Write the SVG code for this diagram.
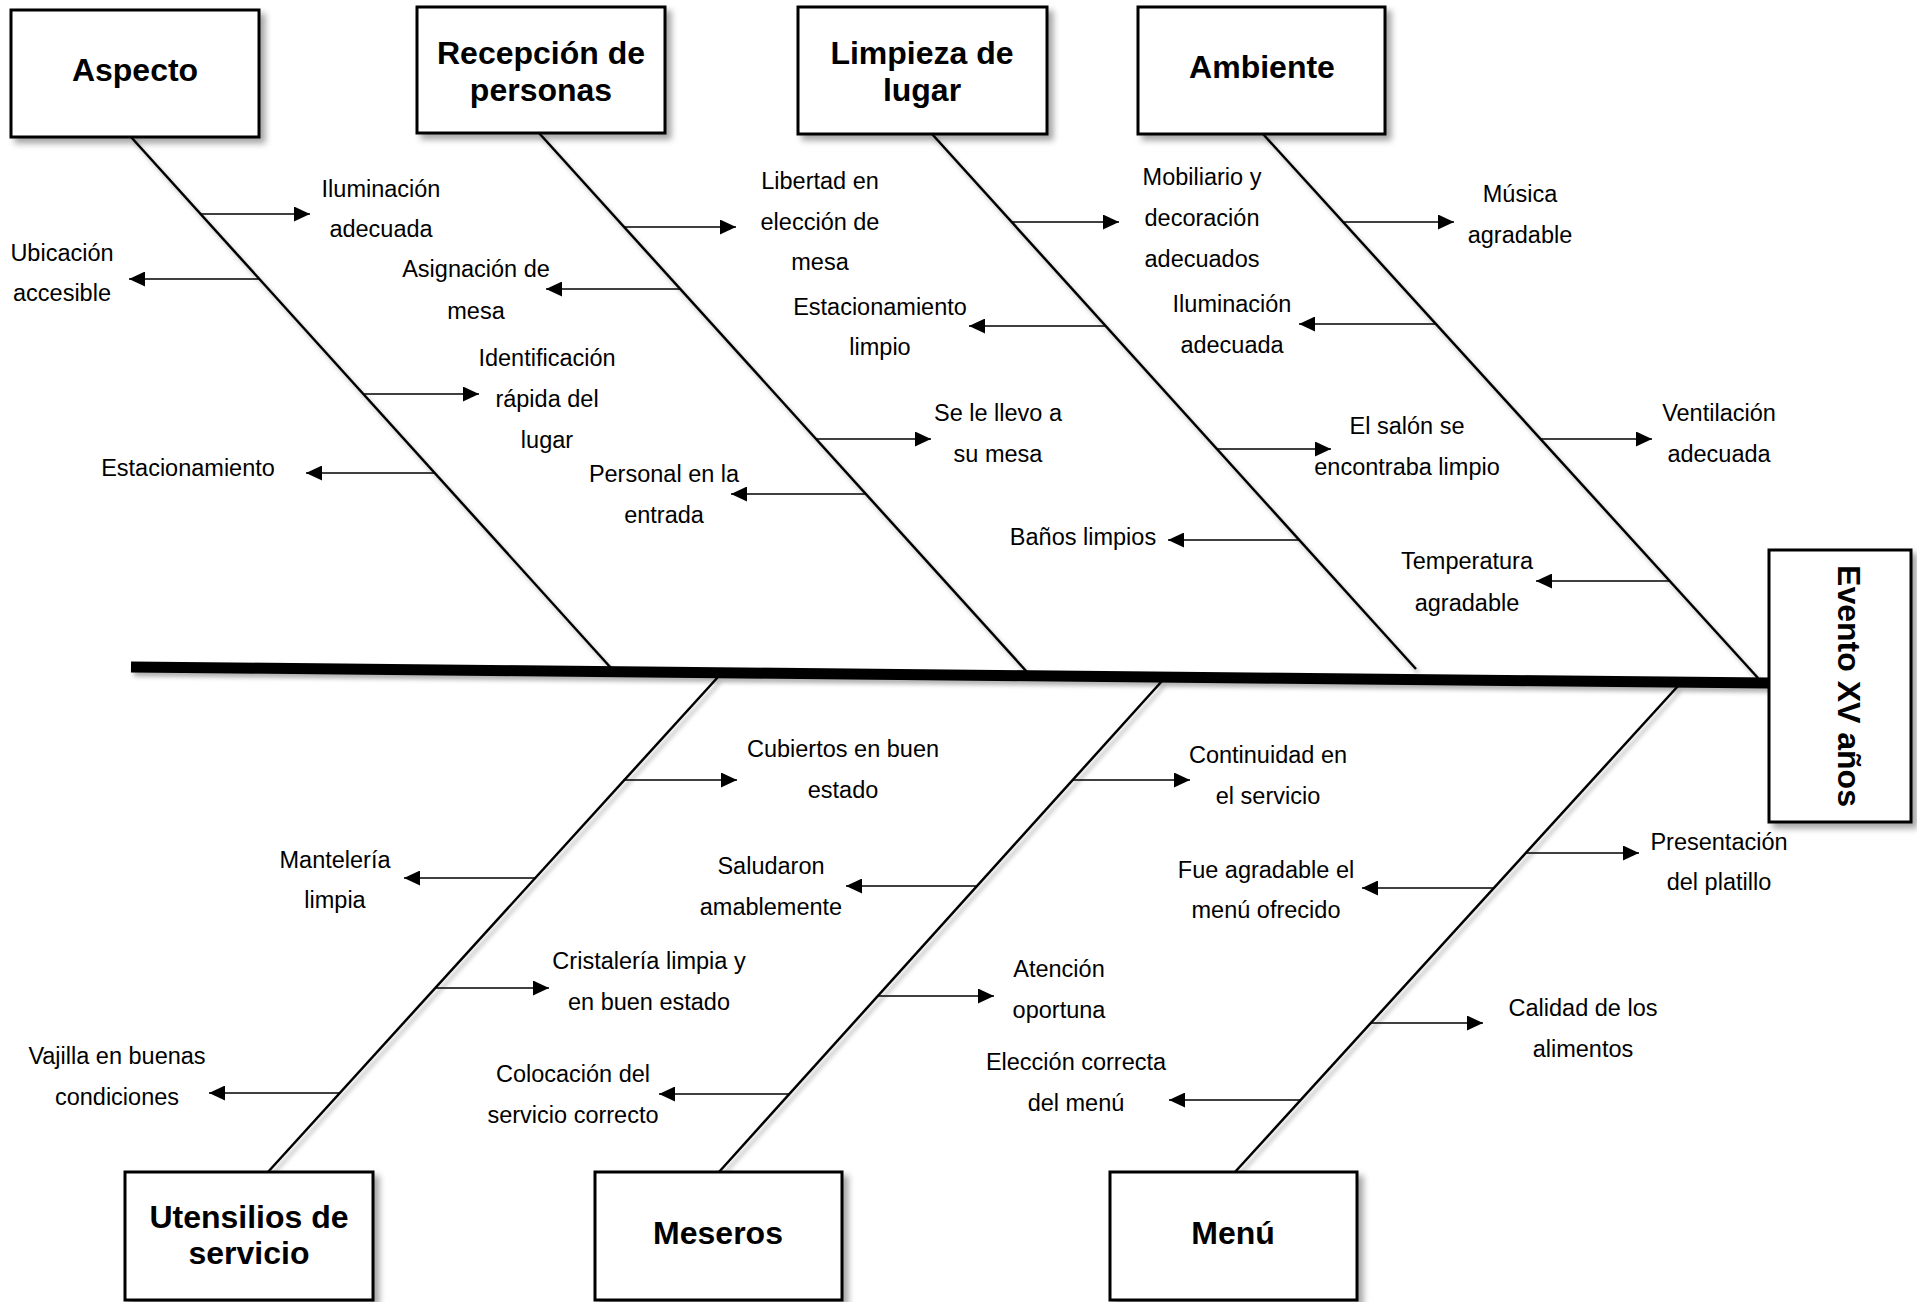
<svg xmlns="http://www.w3.org/2000/svg" width="1917" height="1302" viewBox="0 0 1917 1302">
<style>
.bg{fill:#fff}
.box{fill:#fff;stroke:#000;stroke-width:3}
.h{font-family:"Liberation Sans",Arial,sans-serif;font-size:32px;font-weight:bold;text-anchor:middle;fill:#000}
.t{font-family:"Liberation Sans",Arial,sans-serif;font-size:23.5px;text-anchor:middle;fill:#000}
.bone{stroke:#000;stroke-width:2.5;fill:none}
.spine{stroke:#000;stroke-width:11;fill:none}
.sub{stroke:#000;stroke-width:1.5;fill:none;marker-end:url(#ah)}
</style>
<defs>
<marker id="ah" markerUnits="userSpaceOnUse" markerWidth="16" markerHeight="15" refX="16" refY="7.5" orient="auto">
<path d="M0,0 L16,7.5 L0,15 Z" fill="#000"/>
</marker>
<filter id="sh" x="-10%" y="-10%" width="130%" height="130%">
<feDropShadow dx="5" dy="5" stdDeviation="3" flood-color="#000" flood-opacity="0.35"/>
</filter>
<filter id="lsh" x="-5%" y="-5%" width="110%" height="110%">
<feDropShadow dx="3" dy="4" stdDeviation="2" flood-color="#000" flood-opacity="0.3"/>
</filter>
</defs>
<rect class="bg" x="0" y="0" width="1917" height="1302"/>

<g id="connectors">
<g filter="url(#lsh)">
<line class="spine" x1="131" y1="667" x2="1769" y2="683"/>
<line class="bone" x1="131" y1="137" x2="611" y2="668"/>
<line class="bone" x1="539" y1="133" x2="1027" y2="672"/>
<line class="bone" x1="932" y1="134" x2="1416" y2="669"/>
<line class="bone" x1="1263" y1="134" x2="1758" y2="678"/>
<line class="bone" x1="718" y1="677" x2="268" y2="1172"/>
<line class="bone" x1="1162" y1="681" x2="719" y2="1172"/>
<line class="bone" x1="1678" y1="686" x2="1235" y2="1172"/>
</g>
<line class="sub" x1="201" y1="214" x2="310" y2="214"/>
<line class="sub" x1="260" y1="279" x2="129" y2="279"/>
<line class="sub" x1="364" y1="394" x2="479" y2="394"/>
<line class="sub" x1="435" y1="473" x2="306" y2="473"/>

<line class="sub" x1="624" y1="227" x2="736" y2="227"/>
<line class="sub" x1="680" y1="289" x2="546" y2="289"/>
<line class="sub" x1="816" y1="439" x2="931" y2="439"/>
<line class="sub" x1="866" y1="494" x2="731" y2="494"/>

<line class="sub" x1="1012" y1="222" x2="1119" y2="222"/>
<line class="sub" x1="1106" y1="326" x2="969" y2="326"/>
<line class="sub" x1="1217" y1="449" x2="1331" y2="449"/>
<line class="sub" x1="1299" y1="540" x2="1168" y2="540"/>

<line class="sub" x1="1343" y1="222" x2="1454" y2="222"/>
<line class="sub" x1="1436" y1="324" x2="1299" y2="324"/>
<line class="sub" x1="1541" y1="439" x2="1652" y2="439"/>
<line class="sub" x1="1670" y1="581" x2="1536" y2="581"/>

<line class="sub" x1="623" y1="780" x2="737" y2="780"/>
<line class="sub" x1="535" y1="878" x2="404" y2="878"/>
<line class="sub" x1="435" y1="988" x2="549" y2="988"/>
<line class="sub" x1="340" y1="1093" x2="209" y2="1093"/>

<line class="sub" x1="1073" y1="780" x2="1190" y2="780"/>
<line class="sub" x1="977" y1="886" x2="846" y2="886"/>
<line class="sub" x1="878" y1="996" x2="994" y2="996"/>
<line class="sub" x1="789" y1="1094" x2="659" y2="1094"/>

<line class="sub" x1="1526" y1="853" x2="1639" y2="853"/>
<line class="sub" x1="1494" y1="888" x2="1362" y2="888"/>
<line class="sub" x1="1371" y1="1023" x2="1483" y2="1023"/>
<line class="sub" x1="1301" y1="1100" x2="1169" y2="1100"/>
</g>

<g id="node-aspecto"><rect class="box" x="11" y="10" width="248" height="127" filter="url(#sh)"/><text class="h" x="135" y="81">Aspecto</text></g>
<g id="node-recepcion"><rect class="box" x="417" y="7" width="248" height="126" filter="url(#sh)"/><text class="h" x="541" y="64">Recepción de</text><text class="h" x="541" y="101">personas</text></g>
<g id="node-limpieza"><rect class="box" x="798" y="7" width="249" height="127" filter="url(#sh)"/><text class="h" x="922" y="64">Limpieza de</text><text class="h" x="922" y="101">lugar</text></g>
<g id="node-ambiente"><rect class="box" x="1138" y="7" width="247" height="127" filter="url(#sh)"/><text class="h" x="1262" y="78">Ambiente</text></g>
<g id="node-evento"><rect class="box" x="1769" y="550" width="142" height="272" filter="url(#sh)"/><text class="h" transform="translate(1838,686) rotate(90)" x="0" y="0">Evento XV años</text></g>
<g id="node-utensilios"><rect class="box" x="125" y="1172" width="248" height="128" filter="url(#sh)"/><text class="h" x="249" y="1228">Utensilios de</text><text class="h" x="249" y="1264">servicio</text></g>
<g id="node-meseros"><rect class="box" x="595" y="1172" width="247" height="128" filter="url(#sh)"/><text class="h" x="718" y="1244">Meseros</text></g>
<g id="node-menu"><rect class="box" x="1110" y="1172" width="247" height="128" filter="url(#sh)"/><text class="h" x="1233" y="1244">Menú</text></g>

<g id="causes-aspecto">
<text class="t" x="381" y="197">Iluminación</text><text class="t" x="381" y="237">adecuada</text>
<text class="t" x="62" y="261">Ubicación</text><text class="t" x="62" y="301">accesible</text>
<text class="t" x="547" y="366">Identificación</text><text class="t" x="547" y="407">rápida del</text><text class="t" x="547" y="448">lugar</text>
<text class="t" x="188" y="476">Estacionamiento</text>
</g>
<g id="causes-recepcion">
<text class="t" x="820" y="189">Libertad en</text><text class="t" x="820" y="230">elección de</text><text class="t" x="820" y="270">mesa</text>
<text class="t" x="476" y="277">Asignación de</text><text class="t" x="476" y="319">mesa</text>
<text class="t" x="998" y="421">Se le llevo a</text><text class="t" x="998" y="462">su mesa</text>
<text class="t" x="664" y="482">Personal en la</text><text class="t" x="664" y="523">entrada</text>
</g>
<g id="causes-limpieza">
<text class="t" x="1202" y="185">Mobiliario y</text><text class="t" x="1202" y="226">decoración</text><text class="t" x="1202" y="267">adecuados</text>
<text class="t" x="880" y="315">Estacionamiento</text><text class="t" x="880" y="355">limpio</text>
<text class="t" x="1407" y="434">El salón se</text><text class="t" x="1407" y="475">encontraba limpio</text>
<text class="t" x="1083" y="545">Baños limpios</text>
</g>
<g id="causes-ambiente">
<text class="t" x="1520" y="202">Música</text><text class="t" x="1520" y="243">agradable</text>
<text class="t" x="1232" y="312">Iluminación</text><text class="t" x="1232" y="353">adecuada</text>
<text class="t" x="1719" y="421">Ventilación</text><text class="t" x="1719" y="462">adecuada</text>
<text class="t" x="1467" y="569">Temperatura</text><text class="t" x="1467" y="611">agradable</text>
</g>
<g id="causes-utensilios">
<text class="t" x="843" y="757">Cubiertos en buen</text><text class="t" x="843" y="798">estado</text>
<text class="t" x="335" y="868">Mantelería</text><text class="t" x="335" y="908">limpia</text>
<text class="t" x="649" y="969">Cristalería limpia y</text><text class="t" x="649" y="1010">en buen estado</text>
<text class="t" x="117" y="1064">Vajilla en buenas</text><text class="t" x="117" y="1105">condiciones</text>
</g>
<g id="causes-meseros">
<text class="t" x="1268" y="763">Continuidad en</text><text class="t" x="1268" y="804">el servicio</text>
<text class="t" x="771" y="874">Saludaron</text><text class="t" x="771" y="915">amablemente</text>
<text class="t" x="1059" y="977">Atención</text><text class="t" x="1059" y="1018">oportuna</text>
<text class="t" x="573" y="1082">Colocación del</text><text class="t" x="573" y="1123">servicio correcto</text>
</g>
<g id="causes-menu">
<text class="t" x="1719" y="850">Presentación</text><text class="t" x="1719" y="890">del platillo</text>
<text class="t" x="1266" y="878">Fue agradable el</text><text class="t" x="1266" y="918">menú ofrecido</text>
<text class="t" x="1583" y="1016">Calidad de los</text><text class="t" x="1583" y="1057">alimentos</text>
<text class="t" x="1076" y="1070">Elección correcta</text><text class="t" x="1076" y="1111">del menú</text>
</g>
</svg>
